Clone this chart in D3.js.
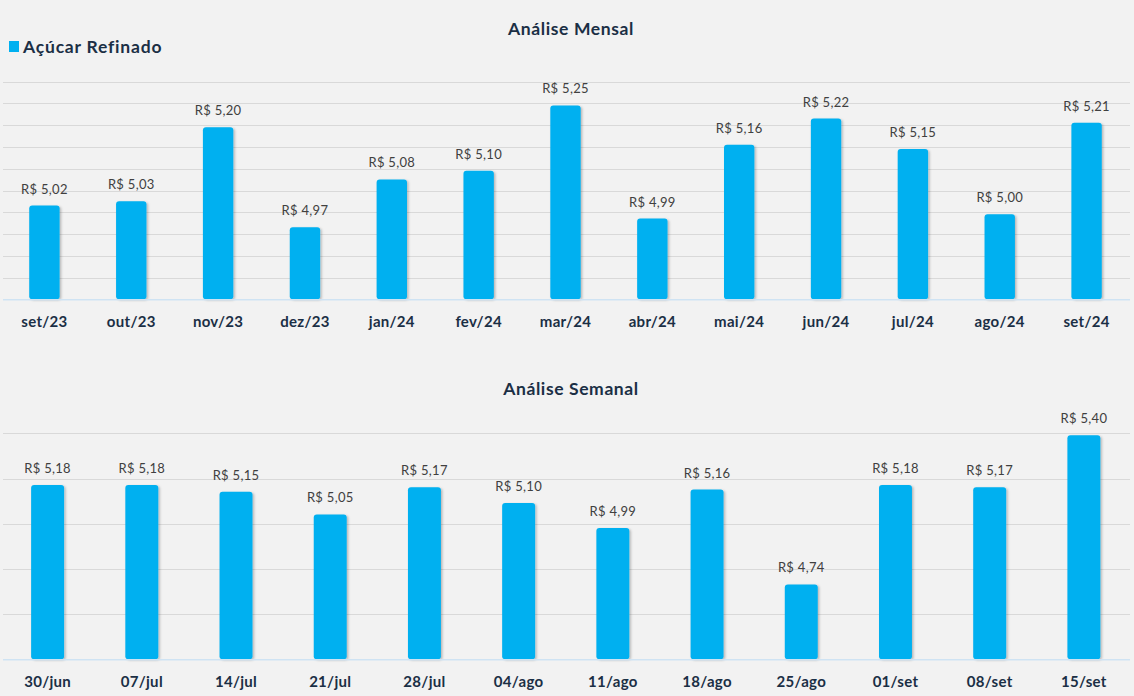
<!DOCTYPE html>
<html><head><meta charset="utf-8">
<script src="https://cdn.jsdelivr.net/npm/d3@7"></script>
<style>
body{margin:0;background:#F2F2F2;}
svg{display:block;font-family:Lato, "Open Sans", sans-serif;}
</style></head>
<body><svg id="c" width="1134" height="696"></svg>
<script>
const seriesName = "Açúcar Refinado";
const monthCats = ["set/23","out/23","nov/23","dez/23","jan/24","fev/24","mar/24","abr/24","mai/24","jun/24","jul/24","ago/24","set/24"];
const monthVals = [5.02,5.03,5.20,4.97,5.08,5.10,5.25,4.99,5.16,5.22,5.15,5.00,5.21];
const weekCats = ["30/jun","07/jul","14/jul","21/jul","28/jul","04/ago","11/ago","18/ago","25/ago","01/set","08/set","15/set"];
const weekVals = [5.18,5.18,5.15,5.05,5.17,5.10,4.99,5.16,4.74,5.18,5.17,5.40];
const monthTicks = [4.80,4.85,4.90,4.95,5.00,5.05,5.10,5.15,5.20,5.25,5.30];
const weekTicks = [4.40,4.60,4.80,5.00,5.20,5.40];

const svg = d3.select("#c");
const BAR = "#00B0F0", GRID = "#D9D9D9", TEXT = "#1B2F45", LABEL = "#404040";

const defs = svg.append("defs");
const f = defs.append("filter").attr("id","sh").attr("x","-20%").attr("y","-10%").attr("width","150%").attr("height","130%");
f.append("feDropShadow").attr("dx",1.5).attr("dy",1).attr("stdDeviation",1.2).attr("flood-color","#000").attr("flood-opacity",0.25);

const fmt = v => "R$ " + d3.format(".2f")(v).replace(".", ",");

function panel(cats, vals, ticks, top, bottom, x0, x1, title, titleY, labelY){
  const x = d3.scaleBand().domain(cats).range([x0, x1]).paddingInner(0.65).paddingOuter(0.325);
  const y = d3.scaleLinear().domain([ticks[0], ticks[ticks.length-1]]).range([bottom, top]);
  const g = svg.append("g");
  g.append("text").attr("x",571).attr("y",titleY).attr("text-anchor","middle")
    .attr("font-size",17.5).attr("letter-spacing",0.6).attr("font-weight","bold").attr("fill",TEXT).text(title);
  g.selectAll("line.grid").data(ticks.slice(1)).join("line")
    .attr("x1",3).attr("x2",1130).attr("y1",d=>Math.round(y(d))+0.5).attr("y2",d=>Math.round(y(d))+0.5)
    .attr("stroke",GRID).attr("stroke-width",1);
  g.selectAll("rect.bar").data(vals).join("rect")
    .attr("x",(d,i)=>x(cats[i])).attr("width",x.bandwidth())
    .attr("y",d=>y(d)+2).attr("height",d=>bottom - y(d) - 2)
    .attr("rx",3).attr("fill",BAR).attr("filter","url(#sh)");
  g.append("line").attr("x1",3).attr("x2",1130).attr("y1",bottom+0.5).attr("y2",bottom+0.5)
    .attr("stroke","#CFE3F3").attr("stroke-width",1.5);
  g.selectAll("text.val").data(vals).join("text")
    .attr("x",(d,i)=>x(cats[i])+x.bandwidth()/2).attr("y",d=>y(d)-10)
    .attr("text-anchor","middle").attr("font-size",13).attr("letter-spacing",0.3).attr("fill",LABEL).text(fmt);
  g.selectAll("text.cat").data(cats).join("text")
    .attr("x",d=>x(d)+x.bandwidth()/2).attr("y",labelY)
    .attr("text-anchor","middle").attr("font-size",15).attr("letter-spacing",0.3).attr("font-weight","bold").attr("fill",TEXT).text(d=>d);
}

panel(monthCats, monthVals, monthTicks, 81.7, 299.3, 1, 1130, "Análise Mensal", 35, 327);
panel(weekCats, weekVals, weekTicks, 433.3, 659.3, 0.5, 1131, "Análise Semanal", 395, 687);

// legend
svg.append("rect").attr("x",9).attr("y",41).attr("width",10).attr("height",11).attr("fill",BAR);
svg.append("text").attr("x",23).attr("y",53).attr("font-size",17.5).attr("letter-spacing",0.8).attr("font-weight","bold").attr("fill",TEXT).text(seriesName);
</script></body></html>
